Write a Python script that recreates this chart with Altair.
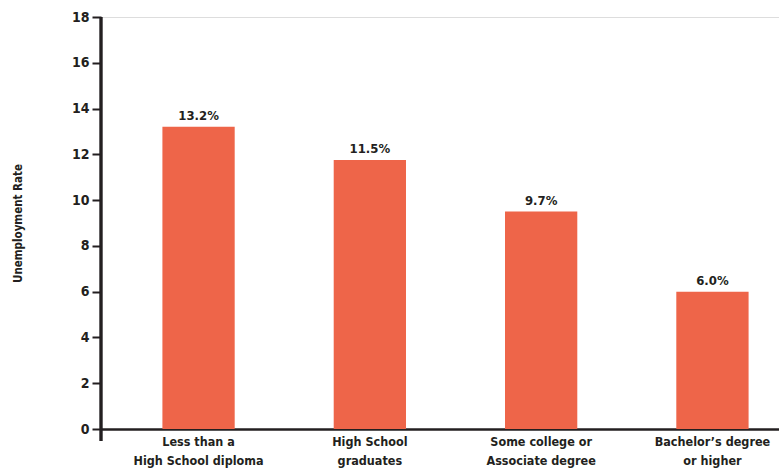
import altair as alt
import pandas as pd

categories = ["Less than a\nHigh School diploma", "High School\ngraduates",
              "Some college or\nAssociate degree", "Bachelor\u2019s degree\nor higher"]
bar_values = [13.2, 11.75, 9.5, 6.0]
label_texts = ["13.2%", "11.5%", "9.7%", "6.0%"]
y_ticks = [0, 2, 4, 6, 8, 10, 12, 14, 16, 18]

df = pd.DataFrame({"cat": categories, "val": bar_values, "lab": label_texts})

FONT = "Liberation Sans Narrow, DejaVu Sans Condensed, Arial Narrow, sans-serif"
INK = "#231F20"
BAR = "#EE6549"

x_enc = alt.X("cat:N", sort=None, title=None,
              scale=alt.Scale(range=[0, 709], paddingInner=0.578, paddingOuter=0.3585),
              axis=alt.Axis(labelAngle=0, ticks=False, domain=True, domainColor=INK,
                            domainWidth=2.5, labelExpr="split(datum.label, '\\n')",
                            labelFont=FONT, labelFontWeight="bold", labelFontSize=12.5,
                            labelColor=INK, labelLineHeight=19, labelPadding=6,
                            labelBaseline="top"))
y_enc = alt.Y("val:Q", title="Unemployment Rate",
              scale=alt.Scale(domain=[0, 18], nice=False, zero=True),
              axis=alt.Axis(values=y_ticks, grid=False, domain=False, tickSize=9,
                            tickWidth=2, tickColor=INK, labelFont=FONT,
                            labelFontWeight="bold", labelFontSize=14, labelColor=INK,
                            labelPadding=3, titleFont=FONT, titleFontWeight="bold",
                            titleFontSize=11.5, titleColor=INK, titleX=-83, titleY=206,
                            titleAngle=270, titleAlign="center", titleBaseline="middle"))

base = alt.Chart(df)
bars = base.mark_bar(color=BAR).encode(x=x_enc, y=y_enc)
labels = base.mark_text(font=FONT, fontWeight="bold", fontSize=13, color=INK,
                        baseline="alphabetic", dy=-7).encode(
    x=alt.X("cat:N", sort=None), y="val:Q", text="lab:N")
yline = base.mark_rule(color=INK, strokeWidth=2.5).encode(
    x=alt.value(0), y=alt.value(0), y2=alt.value(424))

chart = alt.layer(bars, labels, yline).properties(
    width=678, height=412,
    autosize=alt.AutoSizeParams(type="none"),
    padding={"left": 101, "top": 17, "right": 0, "bottom": 41},
).configure_view(stroke=None).configure(background="white")

chart.save("out.html", embed_options={"renderer": "svg", "actions": False})
